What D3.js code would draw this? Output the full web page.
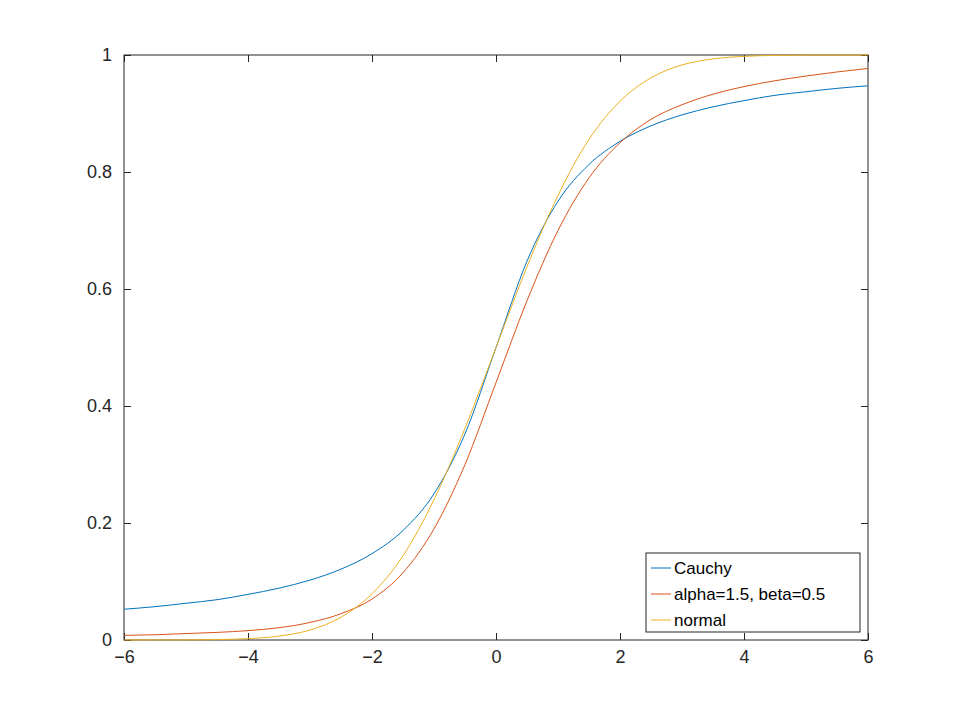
<!DOCTYPE html>
<html><head><meta charset="utf-8">
<script src="https://cdn.jsdelivr.net/npm/d3@7"></script>
<style>body{margin:0;background:#fff}text{font-family:"Liberation Sans",Arial,sans-serif}</style>
</head><body><svg id="c" width="960" height="720"></svg>
<script>
const xs=[-6,-5.5,-5,-4.5,-4,-3.5,-3,-2.5,-2,-1.5,-1,-0.5,0,0.5,1,1.5,2,2.5,3,3.5,4,4.5,5,5.5,6];
const cauchy=[.0526,.0570,.0628,.0689,.0780,.0886,.1024,.1211,.1476,.1872,.25,.3524,.5,.6476,.75,.8128,.8524,.8789,.8976,.9114,.922,.9311,.9372,.943,.9474];
const stable=[.008,.009,.011,.013,.016,.021,.030,.045,.07,.115,.19,.30,.44,.58,.70,.79,.85,.89,.915,.933,.946,.956,.964,.971,.977];
const normal=[0,.0002,.0002,.0007,.0023,.0067,.017,.039,.079,.144,.240,.362,.5,.638,.760,.856,.921,.961,.983,.9933,.9977,.9993,.9998,.9999,1];
const names=["Cauchy","alpha=1.5, beta=0.5","normal"];
const colors=["#0072BD","#D95319","#EDB120"];
const xTicks=[-6,-4,-2,0,2,4,6], yTicks=[0,0.2,0.4,0.6,0.8,1];
const L=124,R=868,T=55,B=640;
const svg=d3.select("#c");
const x=d3.scaleLinear().domain([-6,6]).range([L,R]);
const y=d3.scaleLinear().domain([0,1]).range([B,T]);
const g=svg.append("g");
const ax=(a,tr)=>{const s=svg.append("g").attr("transform",tr).call(a);s.select(".domain").remove();s.selectAll("line").attr("stroke","#262626");s.selectAll("text").attr("font-size",18).attr("fill","#262626");return s;};
ax(d3.axisBottom(x).tickValues(xTicks).tickSize(-7).tickPadding(10).tickFormat(d3.format("d")),`translate(0,${B})`);
ax(d3.axisTop(x).tickValues(xTicks).tickSize(-7).tickFormat(""),`translate(0,${T})`);
ax(d3.axisLeft(y).tickValues(yTicks).tickSize(-7).tickPadding(12).tickFormat(d=>d),`translate(${L},0)`);
ax(d3.axisRight(y).tickValues(yTicks).tickSize(-7).tickFormat(""),`translate(${R},0)`);
svg.append("rect").attr("x",L).attr("y",T).attr("width",R-L).attr("height",B-T).attr("fill","none").attr("stroke","#262626");
const line=d3.line().x(d=>x(d[0])).y(d=>y(d[1])).curve(d3.curveMonotoneX);
[cauchy,stable,normal].forEach((s,i)=>{
 svg.append("path").attr("d",line(xs.map((v,j)=>[v,s[j]]))).attr("fill","none").attr("stroke",colors[i]).attr("stroke-width",1);
});
const lg=svg.append("g").attr("transform","translate(646,553)");
lg.append("rect").attr("width",214).attr("height",79).attr("fill","#fff").attr("stroke","#262626");
names.forEach((n,i)=>{
 const yy=15+i*26;
 lg.append("line").attr("x1",5).attr("x2",25).attr("y1",yy).attr("y2",yy).attr("stroke",colors[i]);
 lg.append("text").attr("x",28).attr("y",yy+6).attr("font-size",17).attr("fill","#000").text(n);
});
</script></body></html>
